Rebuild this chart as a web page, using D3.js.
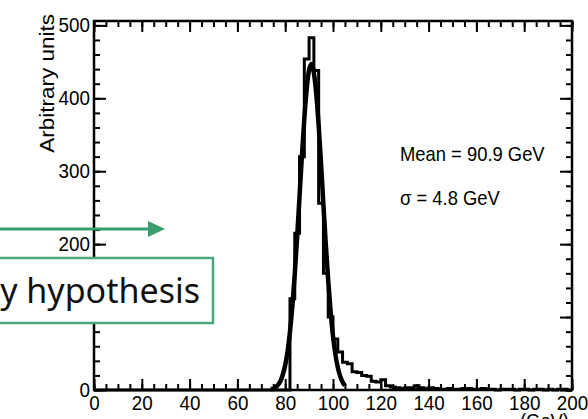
<!DOCTYPE html>
<html>
<head>
<meta charset="utf-8">
<script src="https://cdn.jsdelivr.net/npm/d3@7"></script>
<style>
body { margin: 0; background: #fff; }
svg text { font-family: "Liberation Sans", Arial, sans-serif; }
svg text.note { font-family: "Noto Sans", "Open Sans", sans-serif; }
</style>
</head>
<body>
<div id="chart"></div>
<script>
// histogram counts, 2 GeV bins starting at 0 GeV
const binWidth = 2;
const counts = [
    0, 0, 0, 0, 0, 0, 0, 0, 0, 0,        // 0-18
    0, 0, 0, 0, 0, 0, 0, 0, 0, 0,        // 20-38
    0, 0, 0, 0, 0, 0, 0, 0, 0, 0,        // 40-58
    0, 0, 0, 0, 0, 0, 0, 0, 0, 0,        // 60-78
    0, 125, 215, 320, 454, 483, 438, 256, 160, 100,   // 80-98
    70, 52, 38, 36, 25, 24, 20, 19, 12, 11,          // 100-118
    14, 6, 4, 3, 2, 3, 3, 6, 3, 2,       // 120-138
    3, 2, 1, 1, 2, 1, 1, 2, 2, 1,        // 140-158
    1, 2, 1, 1, 0, 1, 1, 1, 0, 1,        // 160-178
    1, 0, 1, 1, 0, 1, 0, 1, 1, 0         // 180-198
];

// gaussian fit curve
const fitMass = [74, 75, 76, 77, 78, 79, 80, 81, 82, 83, 84, 85, 86, 87, 88, 89,
    90, 91, 92, 93, 94, 95, 96, 97, 98, 99, 100, 101, 102, 103, 104, 105];
const fitValue = [1, 2, 4, 7, 12, 21, 34, 53, 80, 115, 159, 210, 266, 321, 372, 413,
    439, 447, 435, 406, 363, 310, 254, 199, 150, 108, 74, 49, 31, 19, 11, 6];

const xTicks = [0, 20, 40, 60, 80, 100, 120, 140, 160, 180, 200];
const yTicks = [0, 100, 200, 300, 400, 500];
const xMinor = d3.range(0, 201, 5);
const yMinor = d3.range(0, 501, 20);

const statLines = ["Mean = 90.9 GeV", "\u03c3 = 4.8 GeV"];

const W = 588, H = 419;
const pL = 94, pR = 572, pT = 21, pB = 390;
const squeeze = "scale(0.92,1)";

const svg = d3.select("#chart").append("svg")
    .attr("width", W)
    .attr("height", H);

const x = d3.scaleLinear().domain([0, 200]).range([pL, pR]);
const y = d3.scaleLinear().domain([0, 506]).range([pB, pT]);

function styleAxis(g) {
    g.select(".domain").remove();
    g.selectAll(".tick line").attr("stroke", "#000").attr("stroke-width", 2);
    g.selectAll(".tick text")
        .attr("fill", "#000")
        .attr("font-size", 20.5)
        .attr("transform", squeeze);
}

// minor ticks
svg.append("g").attr("transform", `translate(0,${pB})`)
    .call(d3.axisBottom(x).tickValues(xMinor).tickSize(-6).tickFormat(""))
    .call(styleAxis);
svg.append("g").attr("transform", `translate(0,${pT})`)
    .call(d3.axisTop(x).tickValues(xMinor).tickSize(-6).tickFormat(""))
    .call(styleAxis);
svg.append("g").attr("transform", `translate(${pL},0)`)
    .call(d3.axisLeft(y).tickValues(yMinor).tickSize(-6).tickFormat(""))
    .call(styleAxis);
svg.append("g").attr("transform", `translate(${pR},0)`)
    .call(d3.axisRight(y).tickValues(yMinor).tickSize(-6).tickFormat(""))
    .call(styleAxis);

// major ticks
svg.append("g").attr("transform", `translate(0,${pB})`)
    .call(d3.axisBottom(x).tickValues(xTicks).tickSize(-11).tickPadding(5).tickFormat(d3.format("d")))
    .call(styleAxis);
svg.append("g").attr("transform", `translate(0,${pT})`)
    .call(d3.axisTop(x).tickValues(xTicks).tickSize(-11).tickFormat(""))
    .call(styleAxis);
svg.append("g").attr("transform", `translate(${pL},0)`)
    .call(d3.axisLeft(y).tickValues(yTicks).tickSize(-12).tickPadding(4.3).tickFormat(d3.format("d")))
    .call(styleAxis);
svg.append("g").attr("transform", `translate(${pR},0)`)
    .call(d3.axisRight(y).tickValues(yTicks).tickSize(-12).tickFormat(""))
    .call(styleAxis);

// frame
svg.append("rect")
    .attr("x", pL).attr("y", pT)
    .attr("width", pR - pL).attr("height", pB - pT)
    .attr("fill", "none")
    .attr("stroke", "#000")
    .attr("stroke-width", 2.5);

// histogram outline
const histPts = counts.map((c, i) => [i * binWidth, c]);
histPts.push([counts.length * binWidth, counts[counts.length - 1]]);
const step = d3.line()
    .x(d => x(d[0]))
    .y(d => y(d[1]))
    .curve(d3.curveStepAfter);
svg.append("path")
    .datum(histPts)
    .attr("d", step)
    .attr("fill", "none")
    .attr("stroke", "#000")
    .attr("stroke-width", 3)
    .attr("stroke-linejoin", "miter");

// fit
const fitLine = d3.line()
    .x((d, i) => x(fitMass[i]))
    .y(d => y(d))
    .curve(d3.curveMonotoneX);
svg.append("path")
    .datum(fitValue)
    .attr("d", fitLine)
    .attr("fill", "none")
    .attr("stroke", "#000")
    .attr("stroke-width", 4.5)
    .attr("stroke-linejoin", "round");

// stats text
statLines.forEach((t, i) => {
    svg.append("text")
        .attr("transform", `translate(400,${161 + i * 44}) ${squeeze}`)
        .attr("font-size", 20)
        .attr("fill", "#000")
        .text(t);
});

// axis titles
svg.append("text")
    .attr("transform", `translate(54,14) ${squeeze} rotate(-90)`)
    .attr("text-anchor", "end")
    .attr("font-size", 22.5)
    .attr("fill", "#000")
    .text("Arbitrary units");

svg.append("text")
    .attr("transform", `translate(${pR - 3},428) ${squeeze}`)
    .attr("text-anchor", "end")
    .attr("font-size", 20)
    .attr("fill", "#000")
    .text("(GeV)");

// overlay annotation (arrow + box)
const green = "#3a9e6c";
svg.append("line")
    .attr("x1", 0).attr("x2", 150)
    .attr("y1", 229).attr("y2", 229)
    .attr("stroke", green)
    .attr("stroke-width", 3);
svg.append("path")
    .attr("d", "M148,221L165,229L148,237Z")
    .attr("fill", green);

svg.append("rect")
    .attr("x", -10).attr("y", 258)
    .attr("width", 223).attr("height", 65)
    .attr("fill", "#fff")
    .attr("stroke", "#4aa87a")
    .attr("stroke-width", 2.5);
svg.append("text")
    .attr("class", "note")
    .attr("x", 200).attr("y", 303)
    .attr("text-anchor", "end")
    .attr("font-size", 34)
    .attr("fill", "#111")
    .text("y hypothesis");
</script>
</body>
</html>
